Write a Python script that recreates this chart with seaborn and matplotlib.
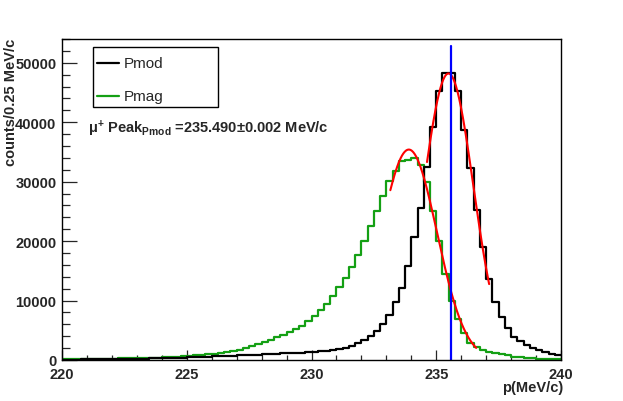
import numpy as np
import pandas as pd
import matplotlib
matplotlib.use("Agg")
import matplotlib.pyplot as plt
import seaborn as sns
from matplotlib.ticker import MultipleLocator
from matplotlib.patches import Rectangle
from matplotlib.lines import Line2D

# ---------------- data ----------------
x_min, x_max, bin_width = 220.0, 240.0, 0.25

pmod_counts = [
    60, 70, 80, 90, 100, 110, 120, 140, 150, 170,
    190, 210, 230, 250, 280, 300, 330, 360, 390, 420,
    450, 490, 520, 560, 600, 640, 690, 740, 790, 830,
    870, 910, 950, 1000, 1050, 1100, 1150, 1200, 1250, 1300,
    1350, 1430, 1540, 1690, 1860, 2080, 2420, 2860, 3420, 4100,
    4940, 6060, 7500, 9800, 12100, 15770, 20650, 25500, 32500, 39170,
    45200, 48200, 48300, 45170, 38770, 32270, 25300, 18970, 13700, 9820,
    7290, 5390, 3930, 3140, 2530, 2070, 1680, 1350, 1060, 840,
]
pmag_counts = [
    150, 160, 170, 180, 190, 200, 210, 230, 250, 270,
    290, 310, 330, 360, 390, 420, 460, 500, 550, 610,
    680, 760, 850, 950, 1070, 1200, 1350, 1530, 1750, 2000,
    2300, 2620, 3000, 3400, 3820, 4250, 4680, 5200, 5780, 6620,
    7460, 8400, 9350, 10800, 12240, 13750, 15680, 17580, 20000, 22470,
    25130, 27600, 30050, 31800, 33400, 33650, 34050, 32780, 29900, 25130,
    20100, 14480, 9990, 6900, 4600, 2920, 2220, 1750, 1420, 1160,
    950, 760, 580, 450, 340, 280, 230, 190, 150, 120,
]

# Gaussian fit parameters: amplitude, mean, sigma, range
pmod_fit = dict(amp=48200, mean=235.49, sigma=1.0, lo=234.63, hi=237.12)
pmag_fit = dict(amp=35400, mean=233.90, sigma=1.13, lo=233.16, hi=236.60)
peak_line_x = 235.6
peak_line_top = 52800

series_names = ["Pmod", "Pmag"]
series_colors = {"Pmod": "#000000", "Pmag": "#14a014"}

# ---------------- figure ----------------
sns.set_style("white")
plt.rcParams["font.family"] = ["Liberation Sans", "DejaVu Sans"]
plt.rcParams["mathtext.fontset"] = "custom"
plt.rcParams["mathtext.bf"] = "Liberation Sans:bold"
plt.rcParams["mathtext.rm"] = "Liberation Sans"
plt.rcParams["mathtext.it"] = "Liberation Sans:italic"
plt.rcParams["mathtext.default"] = "bf"

W, H = 623, 402
fig = plt.figure(figsize=(W / 100, H / 100), dpi=100)
fig.patch.set_facecolor("white")
ax = fig.add_axes([62 / W, 1 - 361 / H, 499 / W, 321 / H])

n_bins = len(pmod_counts)
centers = x_min + bin_width * (np.arange(n_bins) + 0.5)
df = pd.DataFrame({
    "p": np.concatenate([centers, centers]),
    "counts": np.concatenate([pmod_counts, pmag_counts]).astype(float),
    "series": ["Pmod"] * n_bins + ["Pmag"] * n_bins,
})

for name in ["Pmag", "Pmod"]:
    sub = df[df["series"] == name].reset_index(drop=True)
    sns.histplot(data=sub, x="p", weights="counts", binwidth=bin_width,
                 binrange=(x_min, x_max), element="step",
                 fill=False, color=series_colors[name], linewidth=1.6, ax=ax)

for fit in (pmod_fit, pmag_fit):
    xs = np.linspace(fit["lo"], fit["hi"], 200)
    ys = fit["amp"] * np.exp(-0.5 * ((xs - fit["mean"]) / fit["sigma"]) ** 2)
    sns.lineplot(x=xs, y=ys, color="#ff0000", linewidth=1.5, ax=ax)

ax.plot([peak_line_x, peak_line_x], [0, peak_line_top], color="#0000ff", linewidth=1.6)

ax.set_xlim(x_min, x_max)
ax.set_ylim(0, 54000)
ax.set_xlabel("")
ax.set_ylabel("")
ax.xaxis.set_major_locator(MultipleLocator(5))
ax.xaxis.set_minor_locator(MultipleLocator(1))
ax.yaxis.set_major_locator(MultipleLocator(10000))
ax.yaxis.set_minor_locator(MultipleLocator(2000))
ax.tick_params(axis="x", which="major", direction="in", length=7, width=0.9,
               pad=5, labelsize=10.5, top=False, bottom=True)
ax.tick_params(axis="x", which="minor", direction="in", length=3.5, width=0.9,
               top=False, bottom=True)
ax.tick_params(axis="y", which="major", direction="in", length=11, width=0.9,
               pad=4, labelsize=10.5, left=True, right=False)
ax.tick_params(axis="y", which="minor", direction="in", length=5.5, width=0.9,
               left=True, right=False)
for lab in ax.get_xticklabels() + ax.get_yticklabels():
    lab.set_fontweight("bold")
for s in ax.spines.values():
    s.set_color("black")
    s.set_linewidth(1.0)

# axis titles
fig.text(11 / W, 1 - 39 / H, "counts/0.25 MeV/c", rotation=90, ha="center", va="top",
         fontsize=10.5, fontweight="bold")
fig.text(563 / W, 1 - 381 / H, "p(MeV/c)", ha="right", va="top",
         fontsize=10.5, fontweight="bold")

# legend box
fig.patches.append(Rectangle((93 / W, 1 - 108 / H), 125 / W, 60 / H, transform=fig.transFigure,
                             facecolor="white", edgecolor="black", linewidth=1.0, zorder=5))
for i, name in enumerate(series_names):
    yy = 1 - (64 + 33 * i) / H
    fig.lines.append(Line2D([97 / W, 119 / W], [yy, yy], transform=fig.transFigure,
                            color=series_colors[name], linewidth=1.6, zorder=6))
    fig.text(124 / W, yy, name, ha="left", va="center", fontsize=11, zorder=7)

# peak annotation
fig.text(88 / W, 1 - 129 / H,
         r"$\mu^{+}$ Peak$_{Pmod}$ =235.490$\pm$0.002 MeV/c",
         ha="left", va="center", fontsize=10.5, fontweight="bold")

fig.savefig("out.png", dpi=100)
